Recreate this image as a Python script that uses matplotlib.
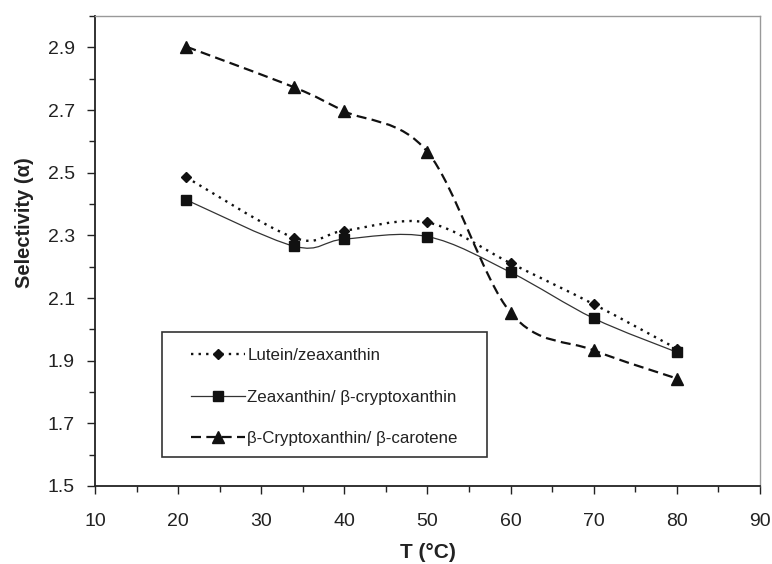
import numpy as np
import matplotlib
matplotlib.use("Agg")
import matplotlib.pyplot as plt
from matplotlib.path import Path
from matplotlib.patches import PathPatch, Rectangle
from matplotlib.lines import Line2D
from matplotlib.ticker import MultipleLocator, FixedLocator, FormatStrFormatter

# Temperaturas (°C) y selectividades medidas
temps = [21, 34, 40, 50, 60, 70, 80]
lutein_zea = [2.485, 2.292, 2.315, 2.341, 2.211, 2.080, 1.938]
zea_crypto = [2.413, 2.265, 2.288, 2.296, 2.182, 2.035, 1.927]
crypto_carot = [2.902, 2.772, 2.696, 2.566, 2.053, 1.933, 1.843]

labels = ["Lutein/zeaxanthin",
          "Zeaxanthin/ β-cryptoxanthin",
          "β-Cryptoxanthin/ β-carotene"]

y_major = [1.5, 1.7, 1.9, 2.1, 2.3, 2.5, 2.7, 2.9]

plt.rcParams['font.family'] = ['Liberation Sans', 'DejaVu Sans']


# Curva suavizada (tipo Excel) con segmentos Bezier cubicos entre los puntos
def SmoothPath(x, y):
    pts = np.column_stack([x, y]).astype(float)
    n = len(pts)
    verts = [pts[0]]
    codes = [Path.MOVETO]
    for i in range(n - 1):
        p0 = pts[max(i - 1, 0)]
        p1 = pts[i]
        p2 = pts[i + 1]
        p3 = pts[min(i + 2, n - 1)]
        verts += [p1 + (p2 - p0) / 6, p2 - (p3 - p1) / 6, p2]
        codes += [Path.CURVE4] * 3
    return Path(verts, codes)


series = [
    (lutein_zea, "D", 5.5, (0, (1.0, 2.2)), 1.7, "#111111"),
    (zea_crypto, "s", 6.5, "-", 0.9, "#333333"),
    (crypto_carot, "^", 8.0, (0, (4.5, 2.4)), 1.6, "#111111"),
]

fig = plt.figure(figsize=(7.72, 5.64), dpi=100)
ax = fig.add_axes([0.123, 0.1383, 0.8615, 0.8333])

handles = []
for (vals, mk, ms, ls, lw, col), lab in zip(series, labels):
    patch = PathPatch(SmoothPath(temps, vals), fill=False, edgecolor=col,
                      linewidth=lw, linestyle=ls, transform=ax.transData)
    ax.add_patch(patch)
    ax.plot(temps, vals, linestyle="none", marker=mk, markersize=ms,
            color="#111111", zorder=3)
    handles.append(Line2D([], [], color=col, linewidth=lw, linestyle=ls,
                          marker=mk, markersize=ms, markerfacecolor="#111111",
                          markeredgecolor="#111111"))

ax.set_xlim(10, 90)
ax.set_ylim(1.5, 3.0)

ax.xaxis.set_major_locator(MultipleLocator(10))
ax.xaxis.set_minor_locator(MultipleLocator(5))
ax.yaxis.set_major_locator(FixedLocator(y_major))
ax.yaxis.set_minor_locator(MultipleLocator(0.1))
ax.yaxis.set_major_formatter(FormatStrFormatter("%.1f"))

ax.tick_params(which="both", direction="out", width=1.0, color="#222222",
               labelsize=14, labelcolor="#222222")
ax.tick_params(which="major", length=5.5)
ax.tick_params(which="minor", length=4.5)
ax.tick_params(axis="x", which="major", pad=14)
ax.tick_params(axis="y", which="major", pad=9)

for side in ["left", "bottom"]:
    ax.spines[side].set_color("#222222")
    ax.spines[side].set_linewidth(1.3)
for side in ["top", "right"]:
    ax.spines[side].set_color("#999999")
    ax.spines[side].set_linewidth(1.0)

ax.set_xlabel("T (°C)", fontsize=15, fontweight="bold", color="#222222",
              labelpad=9)
ax.set_ylabel("Selectivity (α)", fontsize=14.5, fontweight="bold",
              color="#222222")
ax.yaxis.set_label_coords(-0.092, 0.56)

# Leyenda sin marco propio y recuadro dibujado aparte
leg = ax.legend(handles, labels, loc="upper left",
                bbox_to_anchor=(0.131, 0.311), frameon=False, borderpad=0,
                fontsize=12.2, handlelength=3.2, handletextpad=0.15,
                labelspacing=1.55, numpoints=1)
for t in leg.get_texts():
    t.set_color("#222222")

ax.add_patch(Rectangle((0.1008, 0.0617), 0.4887, 0.266, transform=ax.transAxes,
                       fill=False, edgecolor="#333333", linewidth=1.2,
                       zorder=4))

fig.savefig("out.png", dpi=100)
